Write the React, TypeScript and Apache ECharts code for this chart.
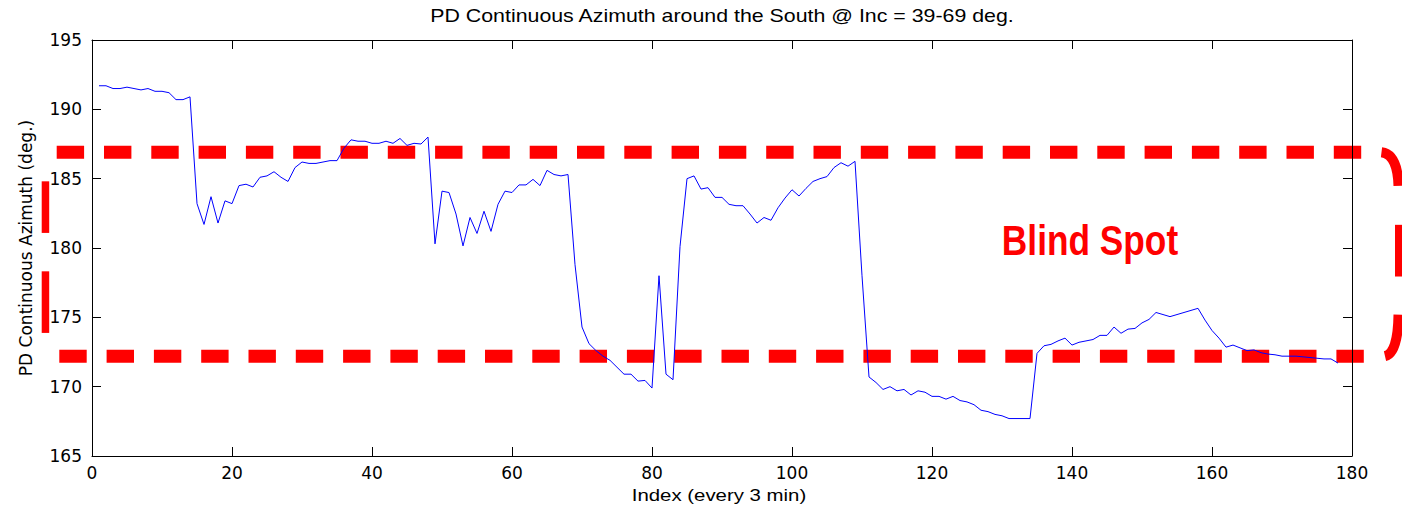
import React, { useEffect, useRef } from "react";
import * as echarts from "echarts";

const TITLE = "PD Continuous Azimuth around the South @ Inc = 39-69 deg.";
const X_NAME = "Index (every 3 min)";
const Y_NAME = "PD Continuous Azimuth (deg.)";
const ANNOTATION = "Blind Spot";

// azimuth values at index 1, 2, 3, ...
const azimuth = [
  191.7, 191.7, 191.5, 191.5, 191.6, 191.5, 191.4, 191.5, 191.3, 191.3,
  191.2, 190.7, 190.7, 190.9, 183.2, 181.7, 183.7, 181.8, 183.4, 183.2,
  184.5, 184.6, 184.4, 185.1, 185.2, 185.5, 185.1, 184.8, 185.8, 186.2,
  186.1, 186.1, 186.2, 186.3, 186.3, 187.2, 187.8, 187.7, 187.7, 187.55,
  187.55, 187.7, 187.55, 187.9, 187.4, 187.55, 187.5, 188.0, 180.3, 184.1,
  184.0, 182.45, 180.15, 182.2, 181.05, 182.65, 181.2, 183.15, 184.1, 184.0,
  184.55, 184.55, 184.95, 184.5, 185.6, 185.3, 185.2, 185.3, 178.8, 174.3,
  173.1, 172.6, 172.2, 171.9, 171.4, 170.9, 170.9, 170.4, 170.45, 169.9,
  178.0, 170.9, 170.5, 180.1, 185.0, 185.2, 184.25, 184.35, 183.65, 183.65,
  183.15, 183.05, 183.05, 182.45, 181.8, 182.2, 182.0, 182.9, 183.6, 184.2,
  183.75, 184.3, 184.8, 185.0, 185.15, 185.8, 186.15, 185.9, 186.25, 178.0,
  170.7, 170.3, 169.8, 170.0, 169.7, 169.8, 169.4, 169.7, 169.6, 169.3,
  169.3, 169.1, 169.3, 169.0, 168.9, 168.7, 168.3, 168.2, 168.0, 167.9,
  167.7, 167.7, 167.7, 167.7, 172.4, 172.95, 173.05, 173.3, 173.5, 173.0,
  173.2, 173.3, 173.4, 173.7, 173.7, 174.3, 173.85, 174.15, 174.2, 174.6,
  174.85, 175.35, 175.2, 175.05, 175.2, 175.35, 175.5, 175.65, 174.8, 174.05,
  173.5, 172.85, 173.0, 172.8, 172.6, 172.65, 172.45, 172.35, 172.3, 172.2,
  172.2, 172.2, 172.15, 172.1, 172.05, 172.0, 172.0, 171.7,
];

const xRange = [0, 180];
const xStep = 20;
const yRange = [165, 195];
const yStep = 5;
const blindSpot = [172.2, 186.9]; // lower / upper bound of the blind-spot band

const FONT = "'DejaVu Sans', sans-serif";
const ARIAL = "'Liberation Sans', Arial, sans-serif";
const RED = "#ff0000";

export default function App() {
  const ref = useRef<HTMLDivElement>(null);

  useEffect(() => {
    const chart = echarts.init(ref.current!, null, { renderer: "svg" });
    const data = azimuth.map((v, i) => [i + 1, v]);

    const line = { show: true, onZero: false, lineStyle: { color: "#000", width: 1 } };
    const tick = { show: true, inside: true, length: 9, lineStyle: { color: "#000", width: 1 } };
    const label = { fontFamily: FONT, fontSize: 17, color: "#000" };

    chart.setOption({
      animation: false,
      backgroundColor: "#ffffff",
      grid: { left: 92, right: 50, top: 40, bottom: 50 },
      xAxis: [
        {
          type: "value", min: xRange[0], max: xRange[1], interval: xStep, position: "bottom",
          axisLine: line, axisTick: tick,
          axisLabel: { ...label, margin: 8 },
          splitLine: { show: false },
        },
        {
          type: "value", min: xRange[0], max: xRange[1], interval: xStep, position: "top",
          axisLine: line, axisTick: tick, axisLabel: { show: false }, splitLine: { show: false },
        },
      ],
      yAxis: [
        {
          type: "value", min: yRange[0], max: yRange[1], interval: yStep, position: "left",
          name: Y_NAME, nameLocation: "middle", nameGap: 58, nameRotate: 90,
          nameTextStyle: { ...label },
          axisLine: line, axisTick: tick,
          axisLabel: { ...label, margin: 10 },
          splitLine: { show: false },
        },
        {
          type: "value", min: yRange[0], max: yRange[1], interval: yStep, position: "right",
          axisLine: line, axisTick: tick, axisLabel: { show: false }, splitLine: { show: false },
        },
      ],
      series: [
        {
          type: "line", xAxisIndex: 0, yAxisIndex: 0, data,
          symbol: "none", showSymbol: false,
          lineStyle: { color: "#0000ff", width: 1 },
        },
      ],
    });

    const yTop = chart.convertToPixel({ yAxisIndex: 0 }, blindSpot[1]) as number;
    const yBot = chart.convertToPixel({ yAxisIndex: 0 }, blindSpot[0]) as number;
    const yMid = (yTop + yBot) / 2;
    const dash = { stroke: RED, lineWidth: 13, lineDash: [27.4, 19.9], lineCap: "butt" };

    chart.setOption({
      graphic: [
        {
          type: "text", x: 722, y: 16, scaleX: 1.22,
          style: { text: TITLE, fill: "#000", font: `17.5px ${ARIAL}`, textAlign: "center", textVerticalAlign: "middle" },
        },
        {
          type: "text", x: 719, y: 495, scaleX: 1.2,
          style: { text: X_NAME, fill: "#000", font: `17px ${ARIAL}`, textAlign: "center", textVerticalAlign: "middle" },
        },
        { type: "line", shape: { x1: 56.7, y1: yTop, x2: 1362, y2: yTop }, style: dash },
        { type: "line", shape: { x1: 59.3, y1: yBot, x2: 1364, y2: yBot }, style: dash },
        { type: "rect", shape: { x: 41.7, y: yTop + 29, width: 7.5, height: 51.6 }, style: { fill: RED } },
        { type: "rect", shape: { x: 41.7, y: yTop + 119, width: 7.5, height: 61.6 }, style: { fill: RED } },
        { type: "rect", shape: { x: 1395, y: yTop + 72.5, width: 7, height: 51.7 }, style: { fill: RED } },
        {
          type: "bezierCurve",
          shape: { x1: 1381.5, y1: yTop, cpx1: 1397.5, cpy1: yTop + 2, x2: 1398.5, y2: yTop + 33.5 },
          style: { stroke: RED, lineWidth: 10, fill: null },
        },
        {
          type: "bezierCurve",
          shape: { x1: 1398.5, y1: yBot - 41.5, cpx1: 1398, cpy1: yBot - 3, x2: 1385, y2: yBot },
          style: { stroke: RED, lineWidth: 10, fill: null },
        },
        {
          type: "text", x: 1090, y: yMid - 14, scaleX: 0.84,
          style: {
            text: ANNOTATION, fill: RED,
            font: `bold 42px ${ARIAL}`,
            textAlign: "center", textVerticalAlign: "middle",
          },
        },
      ],
    });

    return () => chart.dispose();
  }, []);

  return (
    <div
      ref={ref}
      style={{ position: "absolute", left: 0, top: 0, width: 1402, height: 506 }}
    />
  );
}
